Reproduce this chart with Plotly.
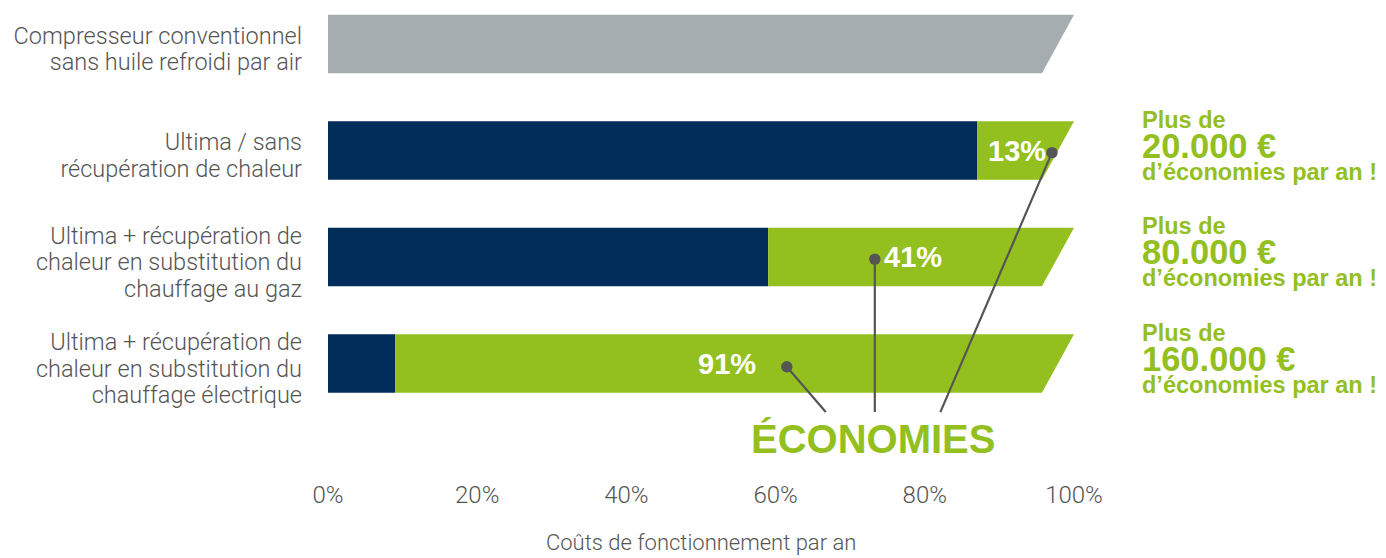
import plotly.graph_objects as go

# ---- data ----
category_lines = [
    ["Compresseur conventionnel", "sans huile refroidi par air"],
    ["Ultima / sans", "récupération de chaleur"],
    ["Ultima + récupération de", "chaleur en substitution du", "chauffage au gaz"],
    ["Ultima + récupération de", "chaleur en substitution du", "chauffage électrique"],
]
conventional_cost = [100]          # row 0 reference (%)
ultima_cost = [87, 59, 9]          # rows 1-3 remaining cost (%)
savings_pct = [13, 41, 91]         # rows 1-3 savings (%)
savings_eur = ["20.000 €", "80.000 €", "160.000 €"]
x_ticks = [0, 20, 40, 60, 80, 100]
x_tick_labels = [f"{v}%" for v in x_ticks]

# ---- style ----
GRAY = "#A6ADB0"
NAVY = "#002D5A"
GREEN = "#93C01F"
TXT = "#555555"
DOT = "#555555"
BAR_W = 0.55
SLANT = 4.3   # slant of bar right end, in axis units

rows_u = [1, 2, 3]

def span(t, px):
    return f"<span style='font-size:{px}px'>{t}</span>"

tick_text = ["<br>".join(span(l, 23.5) for l in lines) for lines in category_lines]

fig = go.Figure()
fig.add_trace(go.Bar(y=[0], x=conventional_cost, orientation="h", marker_color=GRAY,
                     width=BAR_W, hoverinfo="skip", marker_line_width=0))
fig.add_trace(go.Bar(y=rows_u, x=ultima_cost, orientation="h", marker_color=NAVY,
                     width=BAR_W, hoverinfo="skip", marker_line_width=0))
fig.add_trace(go.Bar(y=rows_u, x=savings_pct, base=ultima_cost, orientation="h",
                     marker_color=GREEN, width=BAR_W, hoverinfo="skip", marker_line_width=0))

# white triangles cutting slanted right ends
totals = [conventional_cost[0]] + [a + b for a, b in zip(ultima_cost, savings_pct)]
h = BAR_W / 2
e = 0.03
px, py = [], []
for r, tot in enumerate(totals):
    k = SLANT / (2 * h)
    px += [tot + k * e, tot + 2, tot + 2, tot - SLANT - k * e, tot + k * e, None]
    py += [r - h - e, r - h - e, r + h + e, r + h + e, r - h - e, None]
fig.add_trace(go.Scatter(x=px, y=py, fill="toself", fillcolor="white", mode="lines",
                         line=dict(width=0, color="white"), hoverinfo="skip"))

ann = []
# percentage labels
for r, base, s in zip(rows_u, ultima_cost, savings_pct):
    ann.append(dict(x=(base + 100 - SLANT / 2) / 2, y=r, xref="x", yref="y",
                    text=f"{s}%", showarrow=False,
                    font=dict(family="Liberation Sans", size=29, color="white", weight="bold")))
# right texts
for r, eur in zip(rows_u, savings_eur):
    common = dict(x=1.0885, y=r, xref="paper", yref="y", xanchor="left", showarrow=False)
    ann.append(dict(common, text="Plus de", yshift=31,
                    font=dict(family="Liberation Sans", size=23.5, color=GREEN, weight="bold")))
    ann.append(dict(common, text=eur, yshift=5,
                    font=dict(family="Liberation Sans", size=34.5, color=GREEN, weight="bold")))
    ann.append(dict(common, text="d’économies par an !", yshift=-21,
                    font=dict(family="Liberation Sans", size=23.5, color=GREEN, weight="bold")))

# callout lines with dots
dots = [(97.05, 1.02), (73.3, 2.02), (61.5, 3.03)]
ends = [(82.0, 3.47), (73.3, 3.47), (66.9, 3.47)]
for (dx, dy), (ex, ey) in zip(dots, ends):
    ann.append(dict(x=dx, y=dy, ax=ex, ay=ey, xref="x", yref="y", axref="x", ayref="y",
                    text="", showarrow=True, arrowhead=6, arrowsize=1.3, arrowwidth=2.2,
                    arrowcolor=DOT, standoff=0, startstandoff=0))
ann.append(dict(x=73.1, y=3.71, xref="x", yref="y", text="ÉCONOMIES", showarrow=False,
                font=dict(family="Liberation Sans", size=40, color=GREEN, weight="bold")))
# axis title
ann.append(dict(x=0.5, y=-0.138, xref="paper", yref="paper", yanchor="middle",
                text="Coûts de fonctionnement par an", showarrow=False,
                font=dict(family="Roboto", size=22, color=TXT, weight=300)))

fig.update_layout(
    width=1378, height=550,
    margin=dict(l=320, r=312, t=0, b=80),
    paper_bgcolor="white", plot_bgcolor="white",
    barmode="overlay", showlegend=False,
    annotations=ann,
    font=dict(family="Roboto", color=TXT),
)
fig.update_xaxes(range=[0, 100], tickvals=x_ticks, ticktext=x_tick_labels, showgrid=False,
                 zeroline=False, showline=False, ticks="",
                 tickfont=dict(family="Roboto", size=24, color=TXT, weight=300))
fig.update_yaxes(range=[4.075, -0.338], tickvals=[0, 1, 2, 3], ticktext=tick_text,
                 showgrid=False, zeroline=False, showline=False, ticks="",
                 ticklabelstandoff=25, ticklabelshift=-6,
                 tickfont=dict(family="Roboto", size=20.5, color=TXT, weight=300))

fig.write_html("out.html")
